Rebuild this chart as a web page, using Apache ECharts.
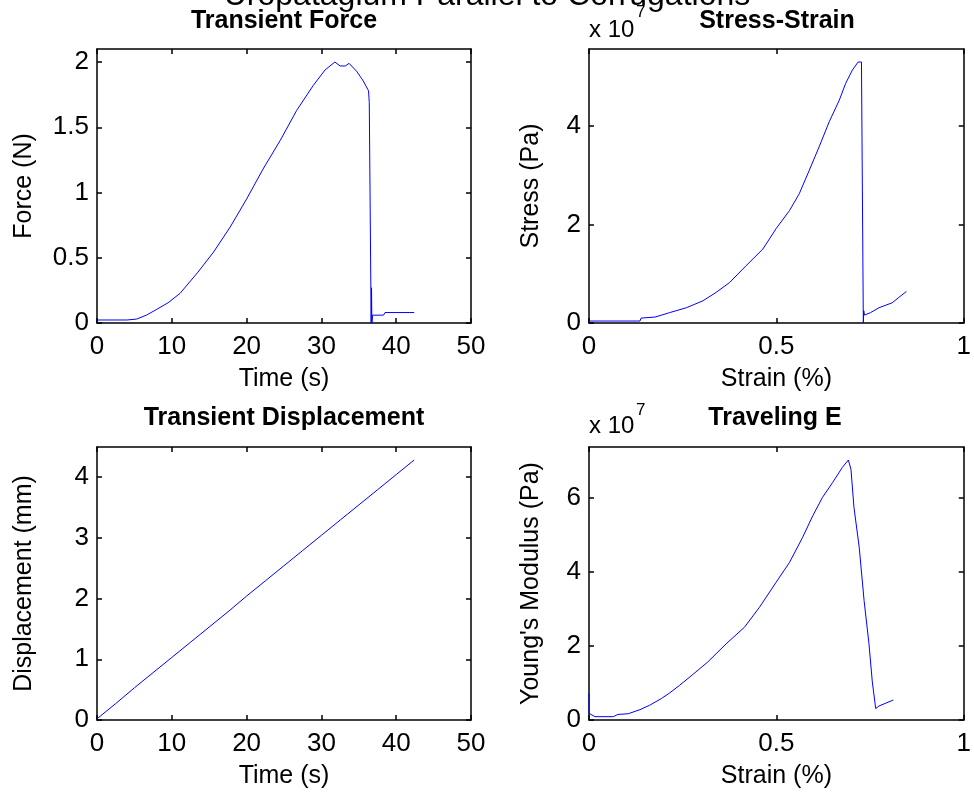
<!DOCTYPE html>
<html>
<head>
<meta charset="utf-8">
<script src="https://cdn.jsdelivr.net/npm/echarts@6/dist/echarts.min.js"></script>
<style>
  html, body { margin: 0; padding: 0; background: #fff; }
  #chart { width: 974px; height: 796px; }
</style>
</head>
<body>
<div id="chart"></div>
<script>
// Tensile test of uropatagium membrane, loaded parallel to the corrugations

// Transient force: time (s) vs force (N)
const forceTime = [0, 4, 4.05, 5.3, 6.6, 8.0, 9.5, 11.1, 13.5, 15.6, 17.8, 20.0, 22.2, 24.5, 26.7, 28.9, 30.5, 31.8, 32.5, 33.2, 33.7, 34.7, 35.6, 36.3, 36.4, 36.65, 36.7, 36.75, 36.85, 38.3, 38.5, 42.4];
const forceN    = [0.023, 0.023, 0.03, 0.03, 0.06, 0.105, 0.155, 0.227, 0.39, 0.545, 0.735, 0.95, 1.18, 1.40, 1.63, 1.82, 1.94, 2.0, 1.97, 1.97, 1.99, 1.93, 1.855, 1.78, 1.69, 0, 0.27, 0, 0.06, 0.06, 0.08, 0.08];

// Stress-strain: strain (%) vs stress (x 10^7 Pa)
const ssStrain = [0, 0.136, 0.139, 0.176, 0.215, 0.26, 0.304, 0.339, 0.375, 0.419, 0.464, 0.499, 0.535, 0.561, 0.588, 0.614, 0.641, 0.668, 0.685, 0.703, 0.718, 0.727, 0.732, 0.733, 0.735, 0.738, 0.751, 0.774, 0.809, 0.827, 0.847];
const ssStress = [0.04, 0.04, 0.1, 0.12, 0.21, 0.31, 0.45, 0.62, 0.82, 1.16, 1.50, 1.91, 2.28, 2.62, 3.10, 3.57, 4.08, 4.52, 4.86, 5.13, 5.29, 5.29, 0, 0.25, 0.16, 0.19, 0.21, 0.31, 0.41, 0.52, 0.64];

// Transient displacement: time (s) vs displacement (mm)
const dispTime = [0, 2.5, 5, 7.5, 10, 12.5, 15, 17.5, 20, 22.5, 25, 27.5, 30, 32.5, 35, 37.5, 40, 42.4];
const dispMM   = [0.02, 0.27, 0.53, 0.78, 1.03, 1.28, 1.53, 1.78, 2.04, 2.29, 2.54, 2.79, 3.04, 3.29, 3.54, 3.79, 4.04, 4.28];

// Traveling Young's modulus: strain (%) vs E (x 10^7 Pa)
const eStrain = [0, 0, 0.003, 0.016, 0.065, 0.077, 0.105, 0.136, 0.162, 0.193, 0.215, 0.242, 0.277, 0.317, 0.366, 0.415, 0.455, 0.499, 0.535, 0.570, 0.597, 0.623, 0.650, 0.676, 0.692, 0.699, 0.707, 0.721, 0.734, 0.747, 0.756, 0.765, 0.774, 0.812];
const eModulus = [0.72, 0.18, 0.16, 0.09, 0.09, 0.15, 0.17, 0.28, 0.40, 0.58, 0.73, 0.94, 1.23, 1.57, 2.06, 2.51, 3.05, 3.72, 4.26, 4.94, 5.52, 6.02, 6.42, 6.83, 7.03, 6.78, 5.75, 4.67, 3.23, 2.06, 1.03, 0.31, 0.38, 0.54];

// Tick values
const timeTicks   = [0, 10, 20, 30, 40, 50];
const strainTicks = [0, 0.5, 1];
const forceTicks  = [0, 0.5, 1, 1.5, 2];
const stressTicks = [0, 2, 4];
const dispTicks   = [0, 1, 2, 3, 4];
const eTicks      = [0, 2, 4, 6];

const FONT = '"Liberation Sans", Arial, Helvetica, sans-serif';
const TICK_FS = 26;

// y range ends 5% above the peak value
const topOf = arr => Math.max(...arr) * 1.05;

const grids = [
  { left: 97,  top: 49,  width: 374, height: 274 },
  { left: 589, top: 49,  width: 375, height: 274 },
  { left: 97,  top: 447, width: 374, height: 273 },
  { left: 589, top: 447, width: 375, height: 273 }
];

const panels = [
  { x: forceTime, y: forceN,   xMax: 50, yMax: topOf(forceN),   xTicks: timeTicks,   yTicks: forceTicks,  xName: 'Time (s)',   yName: 'Force (N)' },
  { x: ssStrain,  y: ssStress, xMax: 1,  yMax: topOf(ssStress), xTicks: strainTicks, yTicks: stressTicks, xName: 'Strain (%)', yName: 'Stress (Pa)' },
  { x: dispTime,  y: dispMM,   xMax: 50, yMax: topOf(dispMM),   xTicks: timeTicks,   yTicks: dispTicks,   xName: 'Time (s)',   yName: 'Displacement (mm)' },
  { x: eStrain,   y: eModulus, xMax: 1,  yMax: topOf(eModulus), xTicks: strainTicks, yTicks: eTicks,      xName: 'Strain (%)', yName: "Young's Modulus (Pa)" }
];

const lineAx = { show: true, onZero: false, lineStyle: { color: '#000', width: 1.5 } };
const tickAx = (vals) => ({ show: true, inside: true, length: 5, customValues: vals, lineStyle: { color: '#000', width: 1.5 } });

const xAxes = [], yAxes = [], series = [];
panels.forEach((p, i) => {
  // bottom axis with labels
  xAxes.push({
    type: 'value', gridIndex: i, position: 'bottom', min: 0, max: p.xMax,
    axisLine: lineAx, axisTick: tickAx(p.xTicks), splitLine: { show: false },
    axisLabel: { customValues: p.xTicks, margin: 11, color: '#000', fontFamily: FONT, fontSize: TICK_FS },
    name: p.xName, nameLocation: 'middle', nameGap: 44,
    nameTextStyle: { color: '#000', fontFamily: FONT, fontSize: 25 }
  });
  // top edge of the box
  xAxes.push({
    type: 'value', gridIndex: i, position: 'top', min: 0, max: p.xMax,
    axisLine: lineAx, axisTick: tickAx(p.xTicks), splitLine: { show: false },
    axisLabel: { show: false }
  });
  // left axis with labels
  yAxes.push({
    type: 'value', gridIndex: i, position: 'left', min: 0, max: p.yMax,
    axisLine: lineAx, axisTick: tickAx(p.yTicks), splitLine: { show: false },
    axisLabel: { customValues: p.yTicks, margin: 8, color: '#000', fontFamily: FONT, fontSize: TICK_FS },
    name: p.yName, nameLocation: 'middle', nameGap: i % 2 === 0 ? 60 : 45,
    nameTextStyle: { color: '#000', fontFamily: FONT, fontSize: 25 }
  });
  // right edge of the box
  yAxes.push({
    type: 'value', gridIndex: i, position: 'right', min: 0, max: p.yMax,
    axisLine: lineAx, axisTick: tickAx(p.yTicks), splitLine: { show: false },
    axisLabel: { show: false }
  });
  series.push({
    type: 'line', xAxisIndex: i * 2, yAxisIndex: i * 2,
    data: p.x.map((v, k) => [v, p.y[k]]),
    showSymbol: false, symbol: 'none',
    lineStyle: { color: '#0000ff', width: 1 },
    emphasis: { disabled: true }
  });
});

const chart = echarts.init(document.getElementById('chart'), null, { renderer: 'canvas' });
chart.setOption({
  animation: false,
  backgroundColor: '#fff',
  grid: grids,
  xAxis: xAxes,
  yAxis: yAxes,
  series: series,
  graphic: [
    { type: 'text', x: 487, y: -4, style: { text: 'Uropatagium Parallel to Corrugations', align: 'center', verticalAlign: 'middle', font: '32px ' + FONT, fill: '#000' } },
    { type: 'text', x: 284, y: 21,  style: { text: 'Transient Force',        align: 'center', verticalAlign: 'middle', font: 'bold 25px ' + FONT, fill: '#000' } },
    { type: 'text', x: 777, y: 21,  style: { text: 'Stress-Strain',          align: 'center', verticalAlign: 'middle', font: 'bold 25px ' + FONT, fill: '#000' } },
    { type: 'text', x: 284, y: 418, style: { text: 'Transient Displacement', align: 'center', verticalAlign: 'middle', font: 'bold 25px ' + FONT, fill: '#000' } },
    { type: 'text', x: 775, y: 418, style: { text: 'Traveling E',            align: 'center', verticalAlign: 'middle', font: 'bold 25px ' + FONT, fill: '#000' } },
    { type: 'text', x: 589, y: 30,  style: { text: 'x 10', align: 'left', verticalAlign: 'middle', font: '24px ' + FONT, fill: '#000' } },
    { type: 'text', x: 636, y: 12,  style: { text: '7',    align: 'left', verticalAlign: 'middle', font: '17px ' + FONT, fill: '#000' } },
    { type: 'text', x: 589, y: 426, style: { text: 'x 10', align: 'left', verticalAlign: 'middle', font: '24px ' + FONT, fill: '#000' } },
    { type: 'text', x: 636, y: 410, style: { text: '7',    align: 'left', verticalAlign: 'middle', font: '17px ' + FONT, fill: '#000' } }
  ]
});
</script>
</body>
</html>
